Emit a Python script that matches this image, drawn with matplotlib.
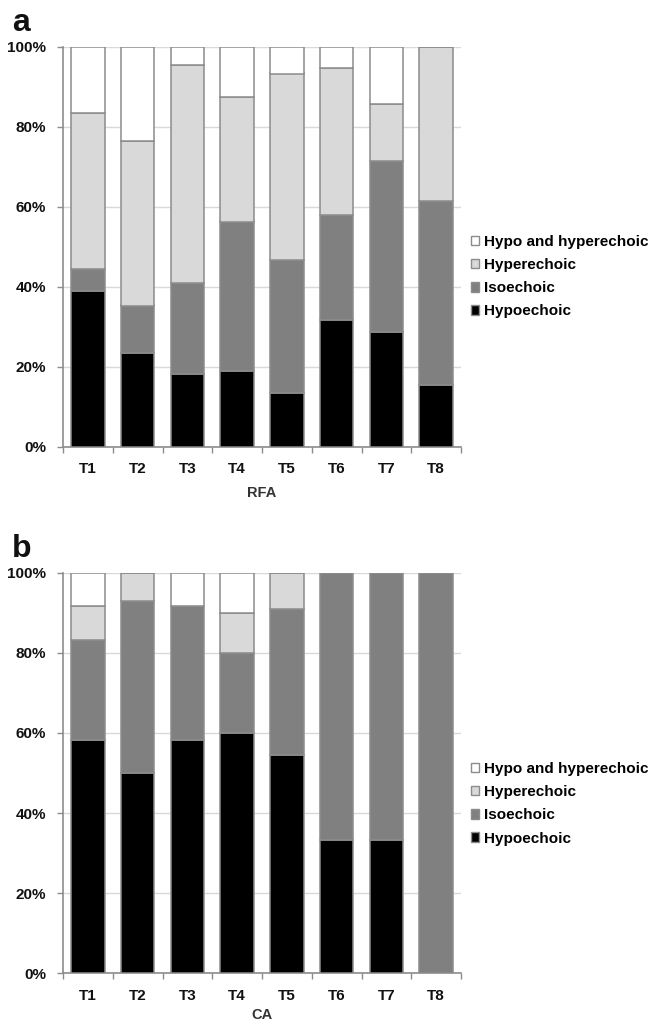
import matplotlib
matplotlib.use("Agg")
import matplotlib.pyplot as plt
from matplotlib.patches import Patch
import numpy as np

plt.rcParams['font.family'] = ['Liberation Sans', 'DejaVu Sans']
plt.rcParams['font.weight'] = 'bold'

categories = ["T1", "T2", "T3", "T4", "T5", "T6", "T7", "T8"]
series_names = ["Hypoechoic", "Isoechoic", "Hyperechoic", "Hypo and hyperechoic"]
series_colors = ["#000000", "#808080", "#d9d9d9", "#ffffff"]

# Panel a (RFA), percentages
rfa_hypo = [38.9, 23.5, 18.2, 18.8, 13.3, 31.6, 28.6, 15.4]
rfa_iso = [5.6, 11.8, 22.7, 37.5, 33.3, 26.3, 42.8, 46.1]
rfa_hyper = [38.9, 41.2, 54.6, 31.2, 46.7, 36.8, 14.3, 38.5]
rfa_both = [16.6, 23.5, 4.5, 12.5, 6.7, 5.3, 14.3, 0.0]

# Panel b (CA), percentages
ca_hypo = [58.3, 50.0, 58.3, 60.0, 54.5, 33.3, 33.3, 0.0]
ca_iso = [25.0, 42.9, 33.4, 20.0, 36.4, 66.7, 66.7, 100.0]
ca_hyper = [8.3, 7.1, 0.0, 10.0, 9.1, 0.0, 0.0, 0.0]
ca_both = [8.4, 0.0, 8.3, 10.0, 0.0, 0.0, 0.0, 0.0]

yticks = [0, 20, 40, 60, 80, 100]
ytick_labels = ["0%", "20%", "40%", "60%", "80%", "100%"]

W, H = 650, 1025
fig = plt.figure(figsize=(W / 100, H / 100), dpi=100)

EDGE = "#8c8c8c"
TXT = "#111111"


def make_panel(top_px, bottom_px, data, panel_letter, xlabel, xlabel_px, legend_top_px):
    left_px, right_px = 63, 461
    ax = fig.add_axes([left_px / W, 1 - bottom_px / H,
                       (right_px - left_px) / W, (bottom_px - top_px) / H])
    x = np.arange(len(categories))
    bottom = np.zeros(len(categories))
    for vals, name, col in zip(data, series_names, series_colors):
        v = np.array(vals)
        ax.bar(x, v, bottom=bottom, width=0.67, color=col, edgecolor=EDGE,
               linewidth=1.1, label=name, zorder=3)
        bottom += v
    ax.set_xlim(-0.5, len(categories) - 0.5)
    ax.set_ylim(0, 100)
    ax.set_yticks(yticks)
    ax.set_yticklabels(ytick_labels, fontsize=11, fontweight='bold', color=TXT)
    ax.set_xticks(x)
    ax.set_xticklabels(categories, fontsize=11, fontweight='bold', color=TXT)
    ax.set_xticks(np.arange(-0.5, len(categories) + 0.5, 1), minor=True)
    ax.tick_params(axis='x', which='major', length=0, pad=11)
    ax.tick_params(axis='x', which='minor', length=4, color=EDGE, width=1)
    ax.tick_params(axis='y', length=4, color=EDGE, width=1, pad=8)
    ax.grid(axis='y', color='#d9d9d9', linewidth=1, zorder=0)
    for s in ['top', 'right']:
        ax.spines[s].set_visible(False)
    for s in ['left', 'bottom']:
        ax.spines[s].set_color(EDGE)
        ax.spines[s].set_linewidth(1.2)
    ax.set_axisbelow(True)

    fig.text(12 / W, 1 - (top_px - 24) / H, panel_letter, fontsize=23,
             fontweight='bold', ha='left', va='center', color=TXT)
    fig.text((left_px + right_px) / 2 / W, 1 - xlabel_px / H, xlabel, fontsize=10.5,
             fontweight='bold', ha='center', va='center', color='#333333')

    handles = [Patch(facecolor=c, edgecolor=EDGE, linewidth=1) for c in series_colors][::-1]
    labels = series_names[::-1]
    fig.legend(handles, labels, loc='upper left',
               bbox_to_anchor=(471 / W, 1 - legend_top_px / H),
               frameon=False, prop={'weight': 'bold', 'size': 11},
               handlelength=0.55, handleheight=0.55, handletextpad=0.3,
               labelspacing=0.6, borderpad=0, borderaxespad=0)
    return ax


make_panel(46.7, 446.7, [rfa_hypo, rfa_iso, rfa_hyper, rfa_both], "a", "RFA", 493, 235)
make_panel(572.7, 973.3, [ca_hypo, ca_iso, ca_hyper, ca_both], "b", "CA", 1015, 762)

fig.savefig("out.png", dpi=100)
